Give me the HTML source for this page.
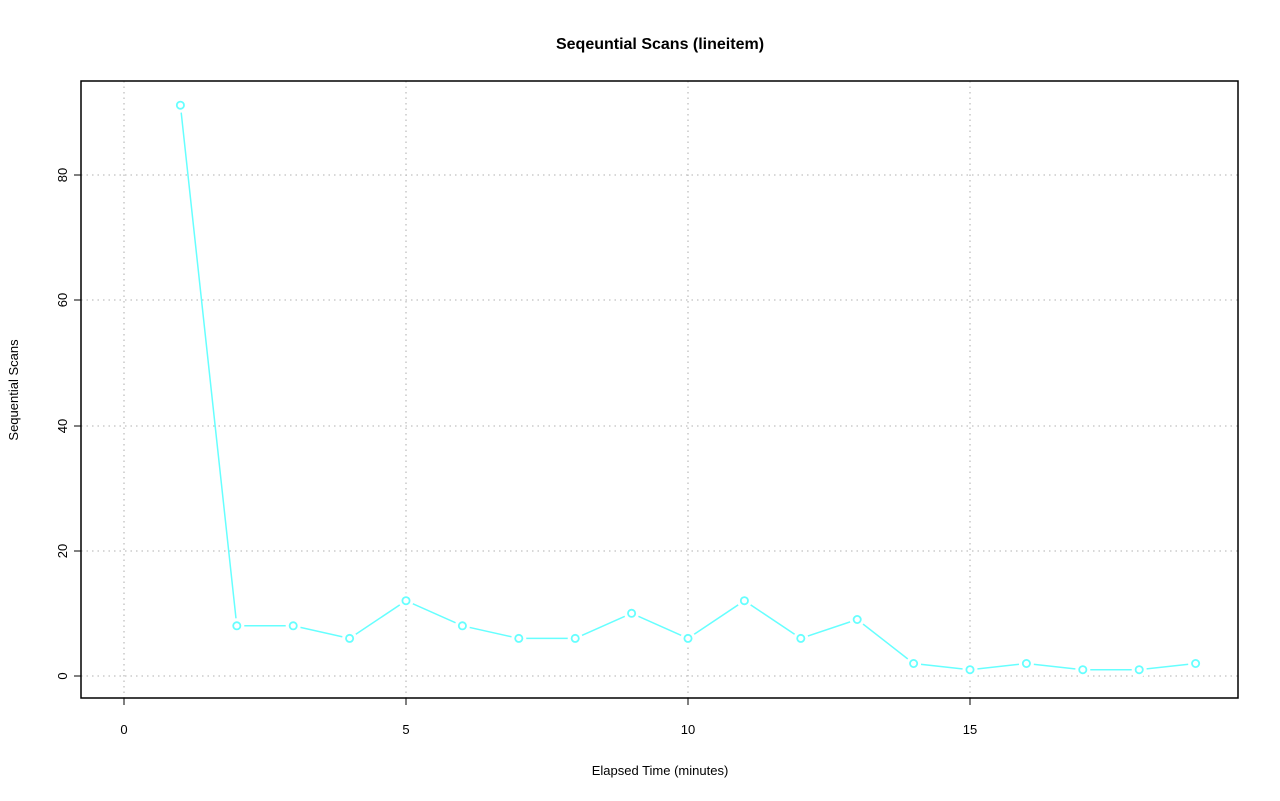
<!DOCTYPE html>
<html><head><style>body{margin:0;background:#fff}svg{display:block}text{font-family:"Liberation Sans",sans-serif;fill:#000}</style></head>
<body>
<svg width="1280" height="801" xmlns="http://www.w3.org/2000/svg">
<g stroke="#c0c0c0" stroke-width="1.3" stroke-dasharray="1.5,4">
<line x1="124" y1="81" x2="124" y2="698"/><line x1="406" y1="81" x2="406" y2="698"/><line x1="688" y1="81" x2="688" y2="698"/><line x1="970" y1="81" x2="970" y2="698"/>
<line x1="81" y1="676" x2="1238" y2="676"/><line x1="81" y1="551" x2="1238" y2="551"/><line x1="81" y1="426" x2="1238" y2="426"/><line x1="81" y1="300" x2="1238" y2="300"/><line x1="81" y1="175" x2="1238" y2="175"/>
</g>
<polyline fill="none" stroke="#66ffff" stroke-width="1.5" points="180.4,105.2 236.8,625.8 293.2,625.8 349.6,638.4 406,600.7 462.4,625.8 518.8,638.4 575.2,638.4 631.6,613.3 688,638.4 744.4,600.7 800.8,638.4 857.2,619.5 913.6,663.5 970,669.7 1026.4,663.5 1082.8,669.7 1139.2,669.7 1195.6,663.5"/>
<g fill="#fff" stroke="#fff" stroke-width="3">
<circle cx="180.4" cy="105.2" r="6"/><circle cx="236.8" cy="625.8" r="6"/><circle cx="293.2" cy="625.8" r="6"/><circle cx="349.6" cy="638.4" r="6"/><circle cx="406" cy="600.7" r="6"/><circle cx="462.4" cy="625.8" r="6"/><circle cx="518.8" cy="638.4" r="6"/><circle cx="575.2" cy="638.4" r="6"/><circle cx="631.6" cy="613.3" r="6"/><circle cx="688" cy="638.4" r="6"/><circle cx="744.4" cy="600.7" r="6"/><circle cx="800.8" cy="638.4" r="6"/><circle cx="857.2" cy="619.5" r="6"/><circle cx="913.6" cy="663.5" r="6"/><circle cx="970" cy="669.7" r="6"/><circle cx="1026.4" cy="663.5" r="6"/><circle cx="1082.8" cy="669.7" r="6"/><circle cx="1139.2" cy="669.7" r="6"/><circle cx="1195.6" cy="663.5" r="6"/>
</g>
<g fill="#fff" stroke="#66ffff" stroke-width="1.8">
<circle cx="180.4" cy="105.2" r="3.6"/><circle cx="236.8" cy="625.8" r="3.6"/><circle cx="293.2" cy="625.8" r="3.6"/><circle cx="349.6" cy="638.4" r="3.6"/><circle cx="406" cy="600.7" r="3.6"/><circle cx="462.4" cy="625.8" r="3.6"/><circle cx="518.8" cy="638.4" r="3.6"/><circle cx="575.2" cy="638.4" r="3.6"/><circle cx="631.6" cy="613.3" r="3.6"/><circle cx="688" cy="638.4" r="3.6"/><circle cx="744.4" cy="600.7" r="3.6"/><circle cx="800.8" cy="638.4" r="3.6"/><circle cx="857.2" cy="619.5" r="3.6"/><circle cx="913.6" cy="663.5" r="3.6"/><circle cx="970" cy="669.7" r="3.6"/><circle cx="1026.4" cy="663.5" r="3.6"/><circle cx="1082.8" cy="669.7" r="3.6"/><circle cx="1139.2" cy="669.7" r="3.6"/><circle cx="1195.6" cy="663.5" r="3.6"/>
</g>
<rect x="81" y="81" width="1157" height="617" fill="none" stroke="#000" stroke-width="1.5"/>
<g stroke="#000" stroke-width="1">
<line x1="124" y1="698" x2="124" y2="705"/><line x1="406" y1="698" x2="406" y2="705"/><line x1="688" y1="698" x2="688" y2="705"/><line x1="970" y1="698" x2="970" y2="705"/>
<line x1="74" y1="676" x2="81" y2="676"/><line x1="74" y1="551" x2="81" y2="551"/><line x1="74" y1="426" x2="81" y2="426"/><line x1="74" y1="300" x2="81" y2="300"/><line x1="74" y1="175" x2="81" y2="175"/>
</g>
<g font-size="13" text-anchor="middle">
<text x="124" y="734">0</text><text x="406" y="734">5</text><text x="688" y="734">10</text><text x="970" y="734">15</text>
<text transform="translate(67,676) rotate(-90)">0</text>
<text transform="translate(67,551) rotate(-90)">20</text>
<text transform="translate(67,426) rotate(-90)">40</text>
<text transform="translate(67,300) rotate(-90)">60</text>
<text transform="translate(67,175) rotate(-90)">80</text>
<text x="660" y="775">Elapsed Time (minutes)</text>
<text transform="translate(18,390) rotate(-90)">Sequential Scans</text>
</g>
<text x="660" y="49" font-size="16" font-weight="bold" text-anchor="middle">Seqeuntial Scans (lineitem)</text>
</svg>
</body></html>
